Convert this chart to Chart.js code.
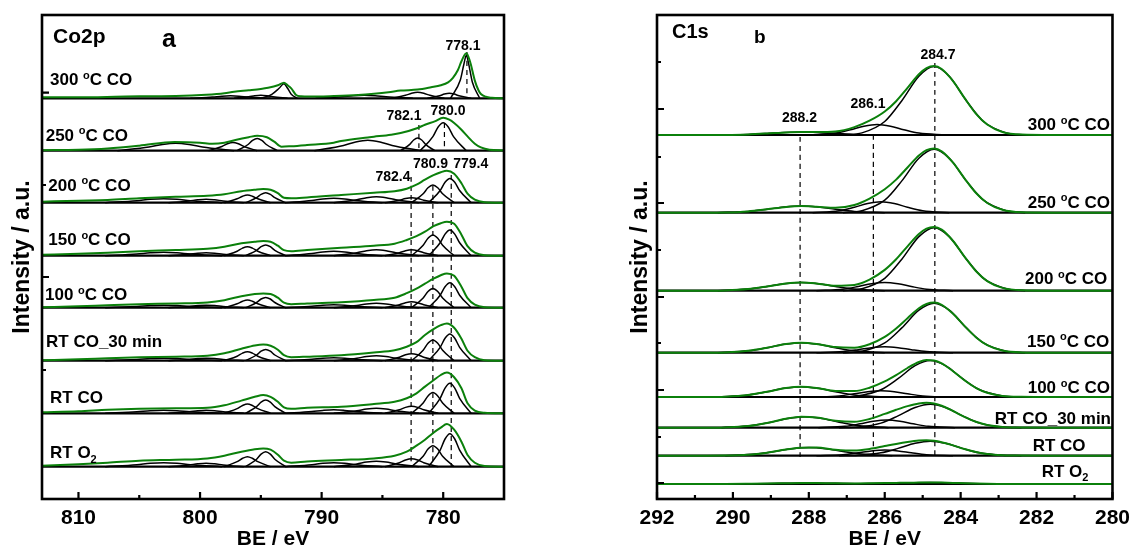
<!DOCTYPE html>
<html><head><meta charset="utf-8">
<script src="https://cdn.jsdelivr.net/npm/chart.js@4.4.1/dist/chart.umd.min.js"></script>
<style>
html,body{margin:0;padding:0;background:#fff;}
#wrap{position:relative;width:1137px;height:554px;overflow:hidden;}
canvas{position:absolute;top:0;}
#ca{left:0;width:570px;height:554px;}
#cb{left:570px;width:567px;height:554px;}
</style></head><body>
<div id="wrap"><canvas id="ca" width="570" height="554"></canvas><canvas id="cb" width="567" height="554"></canvas></div>
<script>
// ================= DATA: panel a (Co2p) =================
const aNames = ['300 °C CO','250 °C CO','200 °C CO','150 °C CO','100 °C CO','RT CO_30 min','RT CO','RT O₂'];
const aOffsets = [400.7, 348.3, 296.3, 243.3, 191.3, 138.3, 85.7, 32.3];
const aTickLabels = [810, 800, 790, 780];
const aMinorTicks = [805, 795, 785];
const aPeakNames = ['778.1','782.1','780.0','780.9','779.4','782.4'];
const aPeakBE = [778.05, 782.0, 779.9, 780.85, 779.34, 782.64];

// envelope (green) grid shared by the lower six spectra
const aEnvBE = [813,810,807.6,805,802,799.4,798,796.6,795.5,794.8,794.2,793.6,793.1,792.5,791.2,788.4,785.7,784,783,782.2,781.5,780.8,780.2,779.7,779.1,778.5,778,777.4,776.6,775];
const aEnv200  = [1,2,2.7,4.5,6,7,8.5,11.5,13,13.7,13,9.5,5,4.5,5.3,7.7,10,11.5,14,18,23,27.5,30.5,32,29,19.5,9,3,0.5,0];
const aEnv150  = [1,2,3,4.5,5.7,7,9,12.5,14,14.7,14,10,5.5,4.5,5.7,8,10,12,15.7,19.5,24,29.5,32.5,34,32,21,9.5,3,0.5,0];
const aEnv100  = [0.5,1.5,2.5,3.5,4.3,5.3,7.5,11.5,13.7,14.3,13.8,10,5,3.5,4.3,5.5,7.7,10,14.5,19,24,29,32.5,34.3,32,21,9.5,3,0.5,0];
const aEnvRT30 = [0.5,1.5,2.5,3.5,4,5,7.5,12,15.3,16.3,15,11,5.5,3.5,4,5.5,8.3,10.5,14,18.5,25.7,31.5,35.5,37.3,33,22,10,3.5,0.5,0];
const aEnvRTCO = [1,2,3.5,4.5,5,5.5,8,12.7,16.5,18.3,16.5,11.5,6,4.5,5.5,6.5,9.3,11.5,15,20,26.7,33,38.3,40.7,36,25,10,2.7,0.5,0];
const aEnvRTO2 = [1,2.5,4,6,7,8.3,11,15,17.5,18.3,17,12,6,4,5.3,6.7,8.3,11,15,21,27,34,39,42.7,37,25,11.7,4,0.7,0];
const aEnv300 = [[813,1],[810,1],[807,1.5],[805,2],[802,2.3],[799.5,3.5],[798,5],[797.2,6.6],[796,8],[795,9.3],[794.4,10.5],[793.6,13],[793.1,15.6],[792.8,13],[792.5,10],[792.1,3.3],[791.7,2],[791,1.7],[789,2.3],[787,3.3],[785.7,4.5],[784.5,6],[783.5,7.7],[782.1,8.7],[781,11],[780.2,13],[779.6,16],[779.2,20.5],[778.8,28],[778.5,37],[778.1,45],[777.8,37],[777.4,17.7],[777.1,8],[776.9,4.3],[776.5,1.5],[776,0.5],[775,0]];
const aEnv250 = [[813,0.5],[810,1],[807.6,2.3],[805,5],[802.1,8.7],[800,8],[799,7],[798,8],[797,11],[796,13.5],[795.3,15],[794.5,13.5],[793.9,9],[793.3,4],[792.5,4.5],[791.2,5.7],[789,8],[788.4,9.7],[786.2,13.3],[785.7,14],[784.3,16],[783.5,17.7],[782.1,22.7],[781.5,26],[780.7,29.3],[780,33],[779.5,31],[779.1,27.7],[778.5,21],[778,14.3],[777.4,7],[776.9,3.3],[776.2,1],[775,0.3]];

// fitted components (black) – BE positions of each component
const aPk779 = [781.2,780.25,779.85,779.45,779.05,778.65,777.7];
const aPk781 = [782.6,781.65,781.25,780.85,780.45,780.05,779.1];
const aPk783 = [784.8,783.6,783.1,782.6,782.1,781.6,780.4];
const aPk785 = [789.0,787.1,786.3,785.5,784.7,783.9,782.0];
const aPk789 = [793.0,790.8,789.9,789.0,788.1,787.2,785.0];
const aPk795 = [796.25,795.35,794.98,794.6,794.22,793.85,792.95];
const aPk796 = [798.0,796.95,796.5,796.1,795.7,795.25,794.2];
const aPk803 = [807.8,805.2,804.1,803.0,801.9,800.8,798.2];
const aPk800 = [802.6,800.9,800.2,799.5,798.8,798.1,796.4];
// component heights, in the order of the grids above
const aComp200 = [[0,12.2,20.4,24.3,20.4,12.2,0],[0,8.9,14.9,17.7,14.9,8.9,0],[0,2.5,4.2,5,4.2,2.5,0],[0,3,5,6,5,3,0],[0,2.3,3.8,4.5,3.8,2.3,0],[0,5,8.4,10,8.4,5,0],[0,3.9,6.5,7.7,6.5,3.9,0],[0,2,3.4,4,3.4,2,0],[0,1.8,2.9,3.5,2.9,1.8,0]];
const aComp150 = [[0,12.9,21.6,25.7,21.6,12.9,0],[0,10.4,17.4,20.7,17.4,10.4,0],[0,3,5,6,5,3,0],[0,3,5,6,5,3,0],[0,2.3,3.8,4.5,3.8,2.3,0],[0,5.4,9,10.7,9,5.4,0],[0,4.5,7.6,9,7.6,4.5,0],[0,1.8,2.9,3.5,2.9,1.8,0],[0,1.5,2.5,3,2.5,1.5,0]];
const aComp100 = [[0,12.5,21,25,21,12.5,0],[0,9.7,16.2,19.3,16.2,9.7,0],[0,3,5,6,5,3,0],[0,2.3,3.8,4.5,3.8,2.3,0],[0,1.5,2.5,3,2.5,1.5,0],[0,5.2,8.7,10.3,8.7,5.2,0],[0,3.9,6.5,7.7,6.5,3.9,0],[0,1.3,2.1,2.5,2.1,1.3,0],[0,1.3,2.1,2.5,2.1,1.3,0]];
const aCompRT30 = [[0,13.4,22.4,26.7,22.4,13.4,0],[0,10.4,17.4,20.7,17.4,10.4,0],[0,3.5,5.9,7,5.9,3.5,0],[0,2.5,4.2,5,4.2,2.5,0],[0,1.5,2.5,3,2.5,1.5,0],[0,5.7,9.5,11.3,9.5,5.7,0],[0,4.5,7.6,9,7.6,4.5,0],[0,1.3,2.1,2.5,2.1,1.3,0],[0,1.3,2.1,2.5,2.1,1.3,0]];
const aCompRTCO = [[0,15,25.2,30,25.2,15,0],[0,10.4,17.4,20.7,17.4,10.4,0],[0,3.5,5.9,7,5.9,3.5,0],[0,2.5,4.2,5,4.2,2.5,0],[0,1.8,2.9,3.5,2.9,1.8,0],[0,6.7,11.2,13.3,11.2,6.7,0],[0,4.7,7.8,9.3,7.8,4.7,0],[0,1.5,2.5,3,2.5,1.5,0],[0,1.5,2.5,3,2.5,1.5,0]];
const aCompRTO2 = [[0,16.5,27.7,33,27.7,16.5,0],[0,10.5,17.6,21,17.6,10.5,0],[0,4,6.7,8,6.7,4,0],[0,2.8,4.6,5.5,4.6,2.8,0],[0,2,3.4,4,3.4,2,0],[0,7.5,12.6,15,12.6,7.5,0],[0,5,8.4,10,8.4,5,0],[0,2,3.4,4,3.4,2,0],[0,1.8,2.9,3.5,2.9,1.8,0]];
const aComp300 = [
 [[779.4,0],[778.6,18],[778.3,34],[778.1,43],[777.9,34],[777.6,16],[777.0,0]],
 [[781.3,0],[780.3,2.5],[779.9,4.2],[779.5,5],[779.1,4.2],[778.7,2.5],[777.7,0]],
 [[784.3,0],[783.1,3],[782.6,5],[782.1,6],[781.6,5],[781.1,3],[779.9,0]],
 [[790.5,0],[788.3,1.5],[787.4,2.5],[786.5,3],[785.6,2.5],[784.7,1.5],[782.5,0]],
 [[795.0,0],[794.1,4],[793.5,10],[793.1,14.5],[792.8,10],[792.5,4],[792.0,0]],
 [[797.2,0],[796.0,1.5],[795.5,2.5],[795.0,3],[794.5,2.5],[794.0,1.5],[792.8,0]],
 [[800.8,0],[799.0,1.2],[798.2,2.1],[797.5,2.5],[796.8,2.1],[796.0,1.2],[794.2,0]]
];
const aComp250 = [
 [[781.9,0],[780.85,14],[780.43,23.5],[780.0,28],[779.57,23.5],[779.15,14],[778.1,0]],
 [[783.5,0],[782.75,6.3],[782.43,10.7],[782.1,12.7],[781.77,10.7],[781.45,6.3],[780.7,0]],
 [[790.6,0],[788.2,5.3],[787.2,8.8],[786.2,10.5],[785.2,8.8],[784.2,5.3],[781.8,0]],
 [[796.95,0],[796.05,6.2],[795.68,10.3],[795.3,12.3],[794.92,10.3],[794.55,6.2],[793.65,0]],
 [[799.3,0],[798.2,4.2],[797.75,7],[797.3,8.3],[796.85,7],[796.4,4.2],[795.3,0]],
 [[806.8,0],[804.2,3.8],[803.1,6.3],[802.0,7.5],[800.9,6.3],[799.8,3.8],[797.2,0]]
];

// ================= DATA: panel b (C1s) =================
const bNames = ['300 °C CO','250 °C CO','200 °C CO','150 °C CO','100 °C CO','RT CO_30 min','RT CO','RT O₂'];
const bOffsets = [364, 286.3, 208.3, 146.3, 102, 71.3, 43.3, 15];
const bTickLabels = [292, 290, 288, 286, 284, 282, 280];
const bMinorTicks = [291, 289, 287, 285, 283, 281];
const bPeakNames = ['288.2','286.1','284.7'];
const bPeakBE = [288.23, 286.3, 284.68];

const bEnvBE = [292,290.8,290.2,289.6,289.1,288.6,288.2,287.8,287.3,286.8,286.4,286.0,285.7,285.4,285.1,284.9,284.7,284.5,284.2,283.9,283.6,283.3,282.9,282.4,281.6,280];
const bEnv300  = [0,0,0.1,0.6,1.5,2.6,3,2.9,3.5,7.9,14.3,23.5,33.8,47.1,60.7,66.8,68.9,66.0,53.9,37.1,21.4,10.5,3.0,0.4,0,0];
const bEnv250  = [0,0,0.2,1.3,3.4,5.8,6.7,6.0,4.9,7.7,14.1,23.5,33.1,45.2,57.2,62.5,64.2,61.4,50.0,34.4,19.9,9.7,2.9,0.4,0,0];
const bEnv200  = [0,0,0.3,1.6,4.2,7.2,8.3,7.3,5.0,5.8,11.1,20.8,31.4,44.4,56.7,62.1,63.8,61.0,49.7,34.1,19.7,9.6,2.8,0.4,0,0];
const bEnv150  = [0,0,0.3,1.9,5.0,8.7,10,8.8,5.6,5.0,8.5,15.9,24.3,34.5,44.4,48.7,50.1,47.9,39.0,26.8,15.5,7.6,2.2,0.3,0,0];
const bEnv100  = [0,0,0.3,1.9,5.2,9.0,10.3,9.1,6.1,5.9,9.3,15.6,21.9,29.0,35.0,36.9,36.5,33.7,25.8,16.8,9.2,4.2,1.1,0.2,0,0];
const bEnvRT30 = [0,0,0.3,1.6,4.7,8.9,10.9,10.2,7.0,5.9,8.7,13.8,17.9,21.6,24.3,24.9,24.1,21.9,16.7,10.8,5.9,2.7,0.7,0.1,0,0];
const bEnvRTCO = [0,0,0.1,0.9,3.0,6.1,8.0,8.1,6.0,5.1,6.7,9.6,11.8,13.7,15.1,15.4,14.9,13.5,10.3,6.7,3.7,1.7,0.5,0.1,0,0];
const bEnvRTO2 = [0,0,0.1,0.3,0.5,0.8,1.0,0.9,0.7,0.6,0.7,0.9,1.1,1.3,1.4,1.5,1.5,1.4,1.1,0.7,0.4,0.2,0.1,0,0,0];

// component BE grids (C-C at 284.7/284.8, C-O near 286, O-C=O near 288)
const bMain847 = [287.1,286.6,286.0,285.55,285.1,284.7,284.3,283.85,283.4,282.8,282.3];
const bMain848 = [287.2,286.7,286.1,285.65,285.2,284.8,284.4,283.95,283.5,282.9,282.4];
const bCO862 = [288.0,287.3,286.9,286.55,286.2,285.85,285.5,285.1,284.4];
const bCO861 = [287.9,287.2,286.8,286.45,286.1,285.75,285.4,285.0,284.3];
const bCO860 = [287.8,287.1,286.7,286.35,286.0,285.65,285.3,284.9,284.2];
const bCO8595 = [287.75,287.05,286.65,286.3,285.95,285.6,285.25,284.85,284.15];
const bCOO882 = [290.4,289.6,289.1,288.65,288.2,287.75,287.3,286.8,286.0];
const bCOO881 = [290.3,289.5,289.0,288.55,288.1,287.65,287.2,286.7,285.9];
const bCOO880 = [290.2,289.4,288.9,288.45,288.0,287.55,287.1,286.6,285.8];
// component heights
const bMainH = [
 [0,2.1,13.5,34.3,58.8,68.5,58.8,34.3,13.5,2.1,0],
 [0,2.0,12.5,31.8,54.5,63.5,54.5,31.8,12.5,2.0,0],
 [0,2.0,12.4,31.5,54.1,63,54.1,31.5,12.4,2.0,0],
 [0,1.5,9.8,24.8,42.5,49.5,42.5,24.8,9.8,1.5,0],
 [0,1.1,7.2,18.3,31.3,36.5,31.3,18.3,7.2,1.1,0],
 [0,0.7,4.6,11.8,20.2,23.5,20.2,11.8,4.6,0.7,0],
 [0,0.45,2.9,7.3,12.4,14.5,12.4,7.3,2.9,0.45,0],
 [0,0,0.3,0.75,1.3,1.5,1.3,0.75,0.3,0,0]];
const bCOH = [
 [0,1.9,5.3,8.8,10.5,8.8,5.3,1.9,0],
 [0,2.0,5.5,9.2,11,9.2,5.5,2.0,0],
 [0,1.5,4.2,7.0,8.3,7.0,4.2,1.5,0],
 [0,1.1,3,5,6,5,3,1.1,0],
 [0,1.1,3.2,5.3,6.3,5.3,3.2,1.1,0],
 [0,1.4,3.9,6.5,7.7,6.5,3.9,1.4,0],
 [0,1.0,2.9,4.8,5.7,4.8,2.9,1.0,0],
 [0,0.1,0.25,0.42,0.5,0.42,0.25,0.1,0]];
const bCOOH = [
 [0,0.6,1.5,2.5,3,2.5,1.5,0.6,0],
 [0,1.3,3.4,5.6,6.7,5.6,3.4,1.3,0],
 [0,1.6,4.2,7.0,8.3,7.0,4.2,1.6,0],
 [0,1.9,5,8.4,10,8.4,5,1.9,0],
 [0,2.0,5.2,8.7,10.3,8.7,5.2,2.0,0],
 [0,2.1,5.5,9.2,11,9.2,5.5,2.1,0],
 [0,1.6,4.2,7.0,8.3,7.0,4.2,1.6,0],
 [0,0.2,0.5,0.84,1,0.84,0.5,0.2,0]];

// ================= build =================
const FONT = '"Liberation Sans", Arial, Helvetica, sans-serif';
const GREEN = '#0b800b';
const zip = (be, h, off) => be.map((x, i) => ({x: x, y: off + h[i]}));
const fromPairs = (p, off) => p.map(q => ({x: q[0], y: off + q[1]}));

function lineDs(data, color, width, order, dash){
  return {data: data, borderColor: color, borderWidth: width, pointRadius: 0, fill: false,
          cubicInterpolationMode: 'monotone', order: order, borderDash: dash || [], clip: 2};
}

// ---- panel a
const aGrids = [aPk779, aPk781, aPk783, aPk785, aPk789, aPk795, aPk796, aPk803, aPk800];
const aEnvs = [fromPairs(aEnv300, aOffsets[0]), fromPairs(aEnv250, aOffsets[1]),
  zip(aEnvBE, aEnv200, aOffsets[2]), zip(aEnvBE, aEnv150, aOffsets[3]), zip(aEnvBE, aEnv100, aOffsets[4]),
  zip(aEnvBE, aEnvRT30, aOffsets[5]), zip(aEnvBE, aEnvRTCO, aOffsets[6]), zip(aEnvBE, aEnvRTO2, aOffsets[7])];
const aComps = [aComp300.map(p => fromPairs(p, aOffsets[0])), aComp250.map(p => fromPairs(p, aOffsets[1]))];
[aComp200, aComp150, aComp100, aCompRT30, aCompRTCO, aCompRTO2].forEach((set, k) => {
  aComps.push(set.map((h, j) => zip(aGrids[j], h, aOffsets[k + 2])));
});
const dsA = [];
aOffsets.forEach((off, i) => {
  dsA.push(lineDs([{x: 813, y: off}, {x: 775, y: off}], '#000', 2.2, 4));
  aComps[i].forEach(c => dsA.push(lineDs(c, '#000', 1.5, 3)));
  dsA.push(lineDs(aEnvs[i], GREEN, 2, 0));
});
// dashed peak markers (vertical extents in axis units)
const aDashY = [[447, 401], [374, 350], [376, 350], [313, 33], [324, 33], [322, 33]];
aPeakBE.forEach((be, i) => dsA.push(lineDs([{x: be, y: aDashY[i][0]}, {x: be, y: aDashY[i][1]}], '#000', 1.2, 1, [5, 4])));

// ---- panel b
const bMainGrid = [bMain847, bMain847, bMain847, bMain847, bMain848, bMain848, bMain848, bMain848];
const bCOGrid = [bCO862, bCO861, bCO860, bCO860, bCO861, bCO8595, bCO860, bCO861];
const bCOOGrid = [bCOO882, bCOO882, bCOO882, bCOO882, bCOO882, bCOO881, bCOO880, bCOO880];
const bEnvs = [bEnv300, bEnv250, bEnv200, bEnv150, bEnv100, bEnvRT30, bEnvRTCO, bEnvRTO2];
const dsB = [];
bOffsets.forEach((off, i) => {
  dsB.push(lineDs([{x: 292, y: off}, {x: 280, y: off}], '#000', 2.2, 4));
  dsB.push(lineDs(zip(bMainGrid[i], bMainH[i], off), '#000', 1.5, 3));
  dsB.push(lineDs(zip(bCOGrid[i], bCOH[i], off), '#000', 1.5, 3));
  dsB.push(lineDs(zip(bCOOGrid[i], bCOOH[i], off), '#000', 1.5, 3));
  dsB.push(lineDs(zip(bEnvBE, bEnvs[i], off), GREEN, 2, 0));
});
const bDashY = [[362, 42], [364, 42], [436, 42]];
bPeakBE.forEach((be, i) => dsB.push(lineDs([{x: be, y: bDashY[i][0]}, {x: be, y: bDashY[i][1]}], '#000', 1.2, 1, [5, 4])));

// ================= drawing helpers =================
function drawRich(ctx, text, x, y, align, size){
  const segs = []; let cur = '';
  for (const ch of text){
    if (ch === '°'){ if (cur) segs.push({t: cur, k: 0}); cur = ''; segs.push({t: 'o', k: 1}); }
    else if (ch === '₂'){ if (cur) segs.push({t: cur, k: 0}); cur = ''; segs.push({t: '2', k: 2}); }
    else cur += ch;
  }
  if (cur) segs.push({t: cur, k: 0});
  const small = Math.round(size * 0.62);
  const fnt = k => 'bold ' + (k ? small : size) + 'px ' + FONT;
  let w = 0;
  segs.forEach(s => { ctx.font = fnt(s.k); s.w = ctx.measureText(s.t).width; w += s.w; });
  let cx = align === 'right' ? x - w : (align === 'center' ? x - w / 2 : x);
  ctx.textAlign = 'left'; ctx.textBaseline = 'alphabetic'; ctx.fillStyle = '#000';
  segs.forEach(s => {
    ctx.font = fnt(s.k);
    const dy = s.k === 1 ? -size * 0.37 : (s.k === 2 ? size * 0.25 : 0);
    ctx.fillText(s.t, cx, y + dy); cx += s.w;
  });
}
function drawFrame(chart, xMaj, xMin, yMaj, yMin){
  const {ctx, chartArea: a} = chart; const sx = chart.scales.x, sy = chart.scales.y;
  ctx.save(); ctx.strokeStyle = '#000'; ctx.lineWidth = 2.2; ctx.beginPath();
  xMaj.forEach(v => { const p = sx.getPixelForValue(v); ctx.moveTo(p, a.bottom); ctx.lineTo(p, a.bottom - 7); });
  xMin.forEach(v => { const p = sx.getPixelForValue(v); ctx.moveTo(p, a.bottom); ctx.lineTo(p, a.bottom - 4); });
  yMaj.forEach(v => { const p = sy.getPixelForValue(v); ctx.moveTo(a.left, p); ctx.lineTo(a.left + 7, p); });
  yMin.forEach(v => { const p = sy.getPixelForValue(v); ctx.moveTo(a.left, p); ctx.lineTo(a.left + 4, p); });
  ctx.stroke();
  ctx.lineWidth = 2.6; ctx.strokeRect(a.left, a.top, a.right - a.left, a.bottom - a.top);
  ctx.restore();
}

// layout of text annotations (canvas pixels)
const aLabelPos = [[50, 85], [45.7, 140.7], [48.3, 190.7], [48.3, 245], [45, 300], [46, 346.5], [50, 403.3], [50, 458.3]];
const aPeakLabelPos = [[463, 49.6], [404, 120], [448, 115], [430.5, 167.7], [470.7, 167.7], [393, 181]];
const bLabelPos = [[540, 130, 'right'], [540, 207.7, 'right'], [537.3, 284, 'right'], [539.3, 346.7, 'right'], [540, 393.3, 'right'], [541, 424, 'right'], [462.7, 450.7, 'left'], [471.7, 476.7, 'left']];
const bPeakLabelPos = [[229.5, 122], [298, 108], [368, 59]];

const decorA = {id: 'decorA', afterDraw(chart){
  const ctx = chart.ctx;
  drawFrame(chart, aTickLabels, aMinorTicks, [406.3, 222], [314, 129]);
  ctx.save();
  aNames.forEach((n, i) => drawRich(ctx, n, aLabelPos[i][0], aLabelPos[i][1], 'left', 17));
  ctx.font = 'bold 14px ' + FONT; ctx.textAlign = 'center'; ctx.textBaseline = 'alphabetic'; ctx.fillStyle = '#000';
  aPeakNames.forEach((n, i) => ctx.fillText(n, aPeakLabelPos[i][0], aPeakLabelPos[i][1]));
  ctx.textAlign = 'left';
  ctx.font = 'bold 21px ' + FONT; ctx.fillText('Co2p', 53, 43.3);
  ctx.font = 'bold 25px ' + FONT; ctx.fillText('a', 162, 47);
  ctx.restore();
}};
const decorB = {id: 'decorB', afterDraw(chart){
  const ctx = chart.ctx;
  drawFrame(chart, bTickLabels, bMinorTicks, [16, 109, 202, 296, 390], [62, 156, 249, 342, 437]);
  ctx.save();
  bNames.forEach((n, i) => drawRich(ctx, n, bLabelPos[i][0], bLabelPos[i][1], bLabelPos[i][2], 17));
  ctx.font = 'bold 14px ' + FONT; ctx.textAlign = 'center'; ctx.textBaseline = 'alphabetic'; ctx.fillStyle = '#000';
  bPeakNames.forEach((n, i) => ctx.fillText(n, bPeakLabelPos[i][0], bPeakLabelPos[i][1]));
  ctx.textAlign = 'left';
  ctx.font = 'bold 20px ' + FONT; ctx.fillText('C1s', 102, 38.3);
  ctx.font = 'bold 19px ' + FONT; ctx.fillText('b', 184, 43.3);
  ctx.restore();
}};

function makeChart(id, datasets, xmin, xmax, ticks, yWidth, padRight, yTitlePad, plugin){
  return new Chart(document.getElementById(id), {
    type: 'line',
    data: {datasets: datasets},
    options: {
      responsive: false, maintainAspectRatio: false, animation: false, devicePixelRatio: 1,
      layout: {padding: {left: 0, right: padRight, top: 15, bottom: 0}},
      plugins: {legend: {display: false}, tooltip: {enabled: false}},
      elements: {point: {radius: 0}},
      scales: {
        x: {type: 'linear', reverse: true, min: xmin, max: xmax,
            grid: {display: false, drawTicks: false}, border: {display: false},
            ticks: {autoSkip: false, maxRotation: 0, minRotation: 0, padding: 7, color: '#000',
                    font: {family: FONT, size: 21, weight: 'bold'}, callback: v => String(v)},
            afterBuildTicks: s => { s.ticks = ticks.map(v => ({value: v})); },
            afterFit: s => { s.height = 55; },
            title: {display: true, text: 'BE / eV', color: '#000', font: {family: FONT, size: 21, weight: 'bold'}, padding: {top: 0, bottom: 2}}},
        y: {type: 'linear', min: 0, max: 484,
            grid: {display: false, drawTicks: false}, border: {display: false}, ticks: {display: false},
            afterFit: s => { s.width = yWidth; },
            title: {display: true, text: 'Intensity / a.u.', color: '#000', font: {family: FONT, size: 23, weight: 'bold'}, padding: {top: yTitlePad, bottom: 0}}}
      }
    },
    plugins: [plugin]
  });
}
makeChart('ca', dsA, 775, 813, aTickLabels, 42, 66, 9, decorA);
makeChart('cb', dsB, 280, 292, bTickLabels, 87, 19, 57, decorB);
</script>
</body></html>
